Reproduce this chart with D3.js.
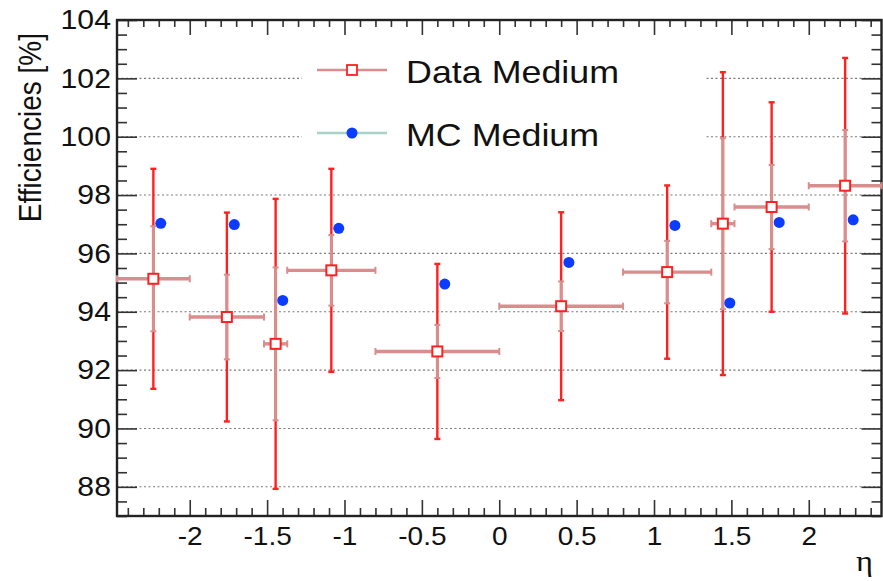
<!DOCTYPE html>
<html>
<head>
<meta charset="utf-8">
<script src="https://cdn.jsdelivr.net/npm/d3@7"></script>
<style>
  html, body { margin: 0; padding: 0; background: #fff; }
  svg text { font-family: "Liberation Sans", Arial, Helvetica, sans-serif; fill: #111; }
</style>
</head>
<body>
<svg id="chart" width="883" height="581"></svg>
<script>
// Eta bins (edges) for the data points
const etaLow  = [-2.47, -2.0, -1.52, -1.37, -0.8, 0.0, 0.8, 1.37, 1.52, 2.0];
const etaHigh = [-2.0, -1.52, -1.37, -0.8, 0.0, 0.8, 1.37, 1.52, 2.0, 2.47];
// Data efficiencies [%] with statistical and total uncertainties
const dataEff  = [95.13, 93.82, 92.90, 95.42, 92.64, 94.19, 95.36, 97.02, 97.59, 98.32];
const statErr  = [1.80, 1.45, 2.62, 1.21, 0.91, 0.85, 1.07, 2.93, 1.44, 1.91];
const totalErr = [3.77, 3.58, 4.97, 3.48, 3.00, 3.22, 2.97, 5.19, 3.59, 4.38];
// MC efficiencies [%], drawn slightly displaced in eta
const mcEta = [-2.187, -1.712, -1.399, -1.037, -0.352, 0.450, 1.135, 1.490, 1.809, 2.287];
const mcEff = [97.03, 96.99, 94.39, 96.86, 94.95, 95.69, 96.96, 94.30, 97.06, 97.15];
// Axis ticks
const xMajorTicks = [-2, -1.5, -1, -0.5, 0, 0.5, 1, 1.5, 2];
const yMajorTicks = [88, 90, 92, 94, 96, 98, 100, 102, 104];
const legendLabels = ["Data Medium", "MC Medium"];

const W = 883, H = 581;
const margin = { left: 117, right: 1.5, top: 20, bottom: 65 };
const x = d3.scaleLinear().domain([-2.47, 2.47]).range([margin.left, W - margin.right]);
const y = d3.scaleLinear().domain([87, 104]).range([H - margin.bottom, margin.top]);
const SX = 1.12; // horizontal text stretch

const colData = "#ff2020", colStat = "#d98d8d", colMC = "#0b3cff", colMCLine = "#a8d2c8";

const svg = d3.select("#chart");

// minor tick positions
const xMinor = d3.range(-24, 25).map(v => v / 10).filter(v => Math.abs(v * 2 - Math.round(v * 2)) > 1e-6);
const yMinor = d3.range(87, 104.01, 0.5).filter(v => Math.abs(v / 2 - Math.round(v / 2)) > 1e-6);

// horizontal dotted grid
svg.append("g").selectAll("line").data(yMajorTicks.filter(v => v < 104)).join("line")
  .attr("x1", x.range()[0]).attr("x2", x.range()[1])
  .attr("y1", d => y(d)).attr("y2", d => y(d))
  .attr("stroke", "#7a7a7a").attr("stroke-width", 1.1).attr("stroke-dasharray", "2,2.5");

// legend background hides the grid behind it
svg.append("rect").attr("x", 302).attr("y", 40).attr("width", 403).attr("height", 125).attr("fill", "#fff");

// axes
function styleAxis(g) {
  g.select(".domain").remove();
  g.selectAll(".tick line").attr("stroke", "#333").attr("stroke-width", 1.6);
}
const yb = H - margin.bottom, yt = margin.top, xl = margin.left, xr = W - margin.right;

const gxB = svg.append("g").attr("transform", `translate(0,${yb})`)
  .call(d3.axisBottom(x).tickValues(xMajorTicks).tickSize(-16).tickPadding(11)
        .tickFormat(d => String(d)));
styleAxis(gxB);
gxB.selectAll("text").attr("font-size", 25).attr("fill", "#111")
  .attr("transform", `scale(${SX},1)`).attr("x", 0);
svg.append("g").attr("transform", `translate(0,${yb})`)
  .call(d3.axisBottom(x).tickValues(xMinor).tickSize(-8).tickFormat("")).call(styleAxis);
svg.append("g").attr("transform", `translate(0,${yt})`)
  .call(d3.axisTop(x).tickValues(xMajorTicks).tickSize(-15).tickFormat("")).call(styleAxis);
svg.append("g").attr("transform", `translate(0,${yt})`)
  .call(d3.axisTop(x).tickValues(xMinor).tickSize(-7).tickFormat("")).call(styleAxis);

const gyL = svg.append("g").attr("transform", `translate(${xl},0)`)
  .call(d3.axisLeft(y).tickValues(yMajorTicks).tickSize(-20).tickPadding(6).tickFormat(d => String(d)));
styleAxis(gyL);
gyL.selectAll("text").attr("font-size", 27).attr("fill", "#111")
  .attr("transform", `scale(${SX},1)`).attr("x", -6 / SX);
svg.append("g").attr("transform", `translate(${xl},0)`)
  .call(d3.axisLeft(y).tickValues(yMinor).tickSize(-10).tickFormat("")).call(styleAxis);
svg.append("g").attr("transform", `translate(${xr},0)`)
  .call(d3.axisRight(y).tickValues(yMajorTicks).tickSize(-20).tickFormat("")).call(styleAxis);
svg.append("g").attr("transform", `translate(${xr},0)`)
  .call(d3.axisRight(y).tickValues(yMinor).tickSize(-10).tickFormat("")).call(styleAxis);

// frame
svg.append("rect").attr("x", xl).attr("y", yt).attr("width", xr - xl).attr("height", yb - yt)
  .attr("fill", "none").attr("stroke", "#222").attr("stroke-width", 2.4);

// data points
const pts = etaLow.map((lo, i) => ({
  lo, hi: etaHigh[i], c: (lo + etaHigh[i]) / 2, v: dataEff[i], s: statErr[i], t: totalErr[i]
}));
const gData = svg.append("g");

// total uncertainty (red)
gData.selectAll(".tot").data(pts).join("line")
  .attr("x1", d => x(d.c)).attr("x2", d => x(d.c))
  .attr("y1", d => y(d.v - d.t)).attr("y2", d => y(d.v + d.t))
  .attr("stroke", colData).attr("stroke-width", 2.4);
gData.selectAll(".totcap").data(pts.flatMap(d => [{c: d.c, e: d.v - d.t}, {c: d.c, e: d.v + d.t}])).join("line")
  .attr("x1", d => x(d.c) - 3).attr("x2", d => x(d.c) + 3)
  .attr("y1", d => y(d.e)).attr("y2", d => y(d.e))
  .attr("stroke", colData).attr("stroke-width", 2.4);

// statistical uncertainty and bin width (pink)
gData.selectAll(".stat").data(pts).join("line")
  .attr("x1", d => x(d.c)).attr("x2", d => x(d.c))
  .attr("y1", d => y(d.v - d.s)).attr("y2", d => y(d.v + d.s))
  .attr("stroke", colStat).attr("stroke-width", 3);
gData.selectAll(".statcap").data(pts.flatMap(d => [{c: d.c, e: d.v - d.s}, {c: d.c, e: d.v + d.s}])).join("line")
  .attr("x1", d => x(d.c) - 3).attr("x2", d => x(d.c) + 3)
  .attr("y1", d => y(d.e)).attr("y2", d => y(d.e))
  .attr("stroke", colStat).attr("stroke-width", 2);
gData.selectAll(".bin").data(pts).join("line")
  .attr("x1", d => x(d.lo)).attr("x2", d => x(d.hi))
  .attr("y1", d => y(d.v)).attr("y2", d => y(d.v))
  .attr("stroke", colStat).attr("stroke-width", 3.4);
gData.selectAll(".bincap").data(pts.flatMap(d => [{e: d.lo, v: d.v}, {e: d.hi, v: d.v}])).join("line")
  .attr("x1", d => x(d.e)).attr("x2", d => x(d.e))
  .attr("y1", d => y(d.v) - 3.5).attr("y2", d => y(d.v) + 3.5)
  .attr("stroke", colStat).attr("stroke-width", 2);

// open square markers
gData.selectAll(".mk").data(pts).join("rect")
  .attr("x", d => x(d.c) - 5).attr("y", d => y(d.v) - 5)
  .attr("width", 10).attr("height", 10)
  .attr("fill", "#fff").attr("stroke", colData).attr("stroke-width", 2);

// MC points
svg.append("g").selectAll("circle").data(mcEta.map((e, i) => ({e, v: mcEff[i]}))).join("circle")
  .attr("cx", d => x(d.e)).attr("cy", d => y(d.v)).attr("r", 5.5)
  .attr("fill", colMC);

// legend
const leg = svg.append("g");
const legY = [70, 133];
leg.append("line").attr("x1", 317).attr("x2", 387).attr("y1", legY[0]).attr("y2", legY[0])
  .attr("stroke", colStat).attr("stroke-width", 2.4);
leg.append("rect").attr("x", 352 - 5).attr("y", legY[0] - 5).attr("width", 10).attr("height", 10)
  .attr("fill", "#fff").attr("stroke", colData).attr("stroke-width", 1.8);
leg.append("line").attr("x1", 317).attr("x2", 387).attr("y1", legY[1]).attr("y2", legY[1])
  .attr("stroke", colMCLine).attr("stroke-width", 2.4);
leg.append("circle").attr("cx", 352).attr("cy", legY[1]).attr("r", 5.5).attr("fill", colMC);
legendLabels.forEach((t, i) => {
  leg.append("text").attr("transform", `translate(406,${legY[i] + 13}) scale(${SX},1)`)
    .attr("font-size", 32).text(t);
});

// axis titles
svg.append("text").attr("transform", `translate(41,33) rotate(-90) scale(1,${SX})`)
  .attr("text-anchor", "end").attr("font-size", 28).text("Efficiencies [%]");
svg.append("text").attr("transform", `translate(873,571) scale(${SX},1)`)
  .attr("text-anchor", "end").attr("font-size", 29)
  .style("font-family", "'Liberation Serif', 'DejaVu Serif', serif").text("η");
</script>
</body>
</html>
